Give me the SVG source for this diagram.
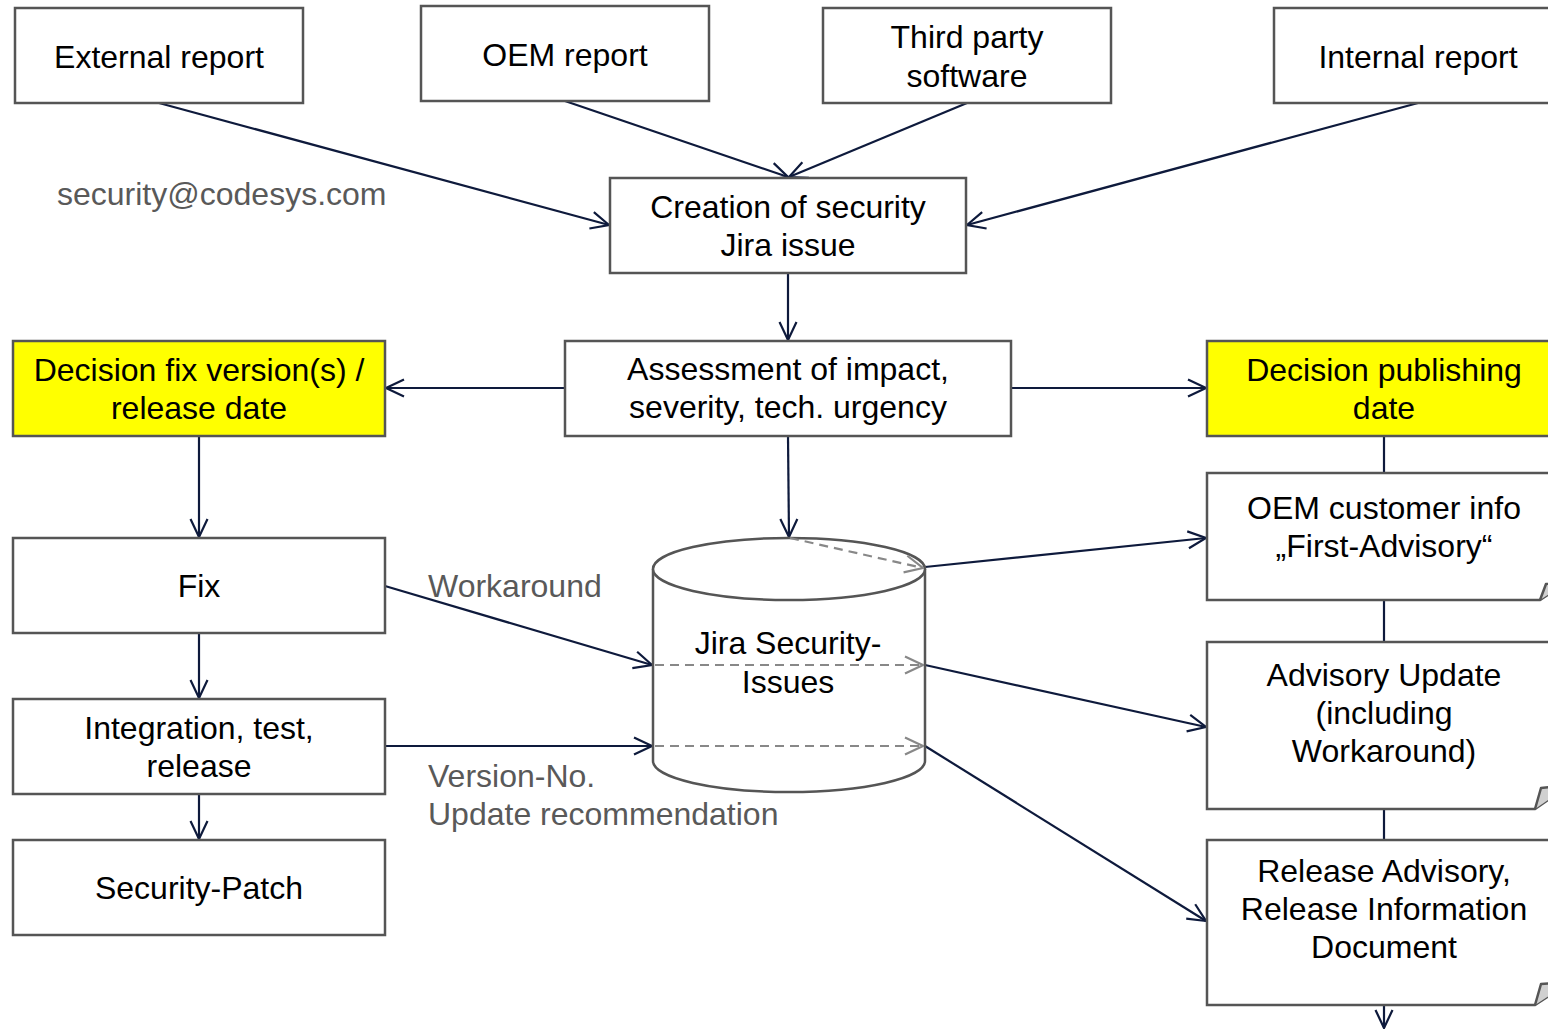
<svg xmlns="http://www.w3.org/2000/svg" width="1548" height="1030" viewBox="0 0 1548 1030">
<style>
.box{fill:#fff;stroke:#555;stroke-width:2.5}
.yel{fill:#ffff00;stroke:#555;stroke-width:2.5}
.fold{fill:#d0d0d0;stroke:#555;stroke-width:2.5;stroke-linejoin:round}
.t{font-family:"Liberation Sans",Arial,sans-serif;font-size:32px;fill:#000;text-anchor:middle}
.lbl{font-family:"Liberation Sans",Arial,sans-serif;font-size:32px;fill:#595959}
.c{fill:none;stroke:#0e1a3c;stroke-width:2.2}
.d{fill:none;stroke:#888;stroke-width:2.2;stroke-dasharray:9,6}
</style>
<defs>
<marker id="a" markerUnits="userSpaceOnUse" viewBox="0 0 20 20" refX="19" refY="10" markerWidth="20" markerHeight="20" orient="auto">
<path d="M1,1.5 L19,10 L1,18.5" fill="none" stroke="#0e1a3c" stroke-width="2.2"/>
</marker>
<marker id="g" markerUnits="userSpaceOnUse" viewBox="0 0 20 20" refX="19" refY="10" markerWidth="20" markerHeight="20" orient="auto">
<path d="M1,1.5 L19,10 L1,18.5" fill="none" stroke="#888" stroke-width="2.2"/>
</marker>
</defs>

<g id="connectors">
<line class="c" x1="159" y1="103" x2="609" y2="225" marker-end="url(#a)"/>
<line class="c" x1="565" y1="101" x2="788" y2="177" marker-end="url(#a)"/>
<line class="c" x1="967" y1="103" x2="789" y2="177" marker-end="url(#a)"/>
<line class="c" x1="1418" y1="103" x2="967" y2="225" marker-end="url(#a)"/>
<line class="c" x1="788" y1="273" x2="788" y2="340" marker-end="url(#a)"/>
<line class="c" x1="565" y1="388" x2="386" y2="388" marker-end="url(#a)"/>
<line class="c" x1="1011" y1="388" x2="1206" y2="388" marker-end="url(#a)"/>
<line class="c" x1="788" y1="436" x2="789" y2="537" marker-end="url(#a)"/>
<line class="c" x1="199" y1="436" x2="199" y2="537" marker-end="url(#a)"/>
<line class="c" x1="199" y1="633" x2="199" y2="698" marker-end="url(#a)"/>
<line class="c" x1="199" y1="794" x2="199" y2="839" marker-end="url(#a)"/>
<line class="c" x1="385" y1="586" x2="652" y2="665" marker-end="url(#a)"/>
<line class="c" x1="385" y1="746" x2="652" y2="746" marker-end="url(#a)"/>
<line class="c" x1="925" y1="567" x2="1206" y2="538" marker-end="url(#a)"/>
<line class="c" x1="925" y1="665" x2="1206" y2="727" marker-end="url(#a)"/>
<line class="c" x1="925" y1="746" x2="1206" y2="921" marker-end="url(#a)"/>
<line class="c" x1="1384" y1="436" x2="1384" y2="473"/>
<line class="c" x1="1384" y1="600" x2="1384" y2="642"/>
<line class="c" x1="1384" y1="809" x2="1384" y2="840"/>
<line class="c" x1="1384" y1="1005" x2="1384" y2="1028" marker-end="url(#a)"/>
</g>

<g id="n-external"><rect class="box" x="15" y="8" width="288" height="95"/><text class="t" x="159" y="68">External report</text></g>
<g id="n-oem"><rect class="box" x="421" y="6" width="288" height="95"/><text class="t" x="565" y="66">OEM report</text></g>
<g id="n-third"><rect class="box" x="823" y="8" width="288" height="95"/><text class="t" x="967" y="48">Third party</text><text class="t" x="967" y="87">software</text></g>
<g id="n-internal"><rect class="box" x="1274" y="8" width="290" height="95"/><text class="t" x="1418" y="68">Internal report</text></g>

<g id="n-creation"><rect class="box" x="610" y="178" width="356" height="95"/><text class="t" x="788" y="218">Creation of security</text><text class="t" x="788" y="256">Jira issue</text></g>
<g id="n-assess"><rect class="box" x="565" y="341" width="446" height="95"/><text class="t" x="788" y="380">Assessment of impact,</text><text class="t" x="788" y="418">severity, tech. urgency</text></g>
<g id="n-decfix"><rect class="yel" x="13" y="341" width="372" height="95"/><text class="t" x="199" y="381">Decision fix version(s) /</text><text class="t" x="199" y="419">release date</text></g>
<g id="n-decpub"><rect class="yel" x="1207" y="341" width="360" height="95"/><text class="t" x="1384" y="381">Decision publishing</text><text class="t" x="1384" y="419">date</text></g>

<g id="n-fix"><rect class="box" x="13" y="538" width="372" height="95"/><text class="t" x="199" y="597">Fix</text></g>
<g id="n-integ"><rect class="box" x="13" y="699" width="372" height="95"/><text class="t" x="199" y="739">Integration, test,</text><text class="t" x="199" y="777">release</text></g>
<g id="n-patch"><rect class="box" x="13" y="840" width="372" height="95"/><text class="t" x="199" y="899">Security-Patch</text></g>

<g id="n-jira">
<path class="box" d="M653,569 V761 A136,31 0 0 0 925,761 V569"/>
<ellipse class="box" cx="789" cy="569" rx="136" ry="31"/>
<text class="t" x="788" y="654">Jira Security-</text><text class="t" x="788" y="693">Issues</text>
<line class="d" x1="790" y1="538" x2="923" y2="568" marker-end="url(#g)"/>
<line class="d" x1="655" y1="665" x2="923" y2="665" marker-end="url(#g)"/>
<line class="d" x1="655" y1="746" x2="923" y2="746" marker-end="url(#g)"/>
</g>

<g id="n-oeminfo"><path class="box" d="M1207,473 H1570 V580 L1540,600 H1207 Z"/><path class="fold" d="M1540,600 L1546,584 L1570,580"/><text class="t" x="1384" y="519">OEM customer info</text><text class="t" x="1384" y="557">„First-Advisory“</text></g>
<g id="n-advupd"><path class="box" d="M1207,642 H1570 V785 L1535,809 H1207 Z"/><path class="fold" d="M1535,809 L1541,788 L1570,785"/><text class="t" x="1384" y="686">Advisory Update</text><text class="t" x="1384" y="724">(including</text><text class="t" x="1384" y="762">Workaround)</text></g>
<g id="n-release"><path class="box" d="M1207,840 H1570 V982 L1535,1005 H1207 Z"/><path class="fold" d="M1535,1005 L1541,984 L1570,982"/><text class="t" x="1384" y="882">Release Advisory,</text><text class="t" x="1384" y="920">Release Information</text><text class="t" x="1384" y="958">Document</text></g>

<g id="labels">
<text class="lbl" x="57" y="205">security@codesys.com</text>
<text class="lbl" x="428" y="597">Workaround</text>
<text class="lbl" x="428" y="787">Version-No.</text>
<text class="lbl" x="428" y="825">Update recommendation</text>
</g>
</svg>
